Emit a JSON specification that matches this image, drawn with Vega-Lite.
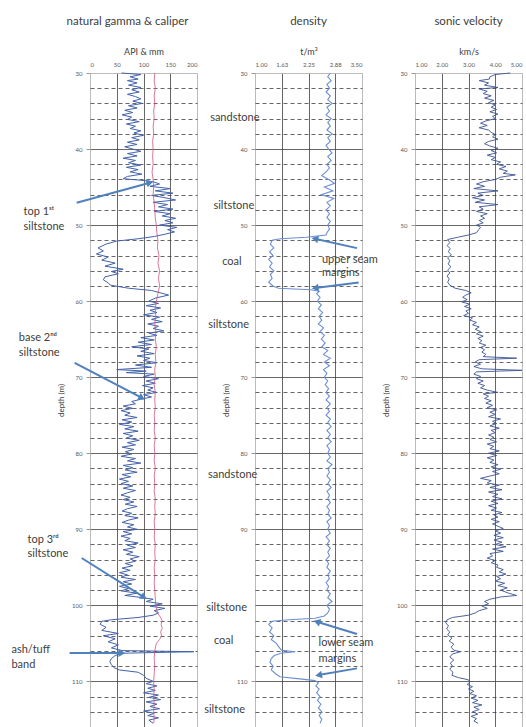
{
"$schema": "https://vega.github.io/schema/vega-lite/v6.json",
"autosize": {"type": "pad"},
"padding": {"left": 10, "top": 15, "right": 0, "bottom": 0},
"background": "white",
"config": {
  "view": {"stroke": "#bbbbbb", "strokeWidth": 1},
  "font": "Lato",
  "title": {"font": "Lato", "fontSize": 11.5, "fontWeight": "normal", "color": "#404040", "offset": 20},
  "axis": {"labelFont": "Lato", "titleFont": "Lato", "labelColor": "#595959", "titleColor": "#404040", "titleFontWeight": "normal", "domain": false}
},
"datasets": {
"gamma": [
{"d":30.0,"v":59},{"d":30.2,"v":95},{"d":30.5,"v":75},{"d":30.8,"v":90},{"d":31.0,"v":70},{"d":31.3,"v":88},{"d":31.6,"v":72},{"d":31.9,"v":95},{"d":32.2,"v":78},{"d":32.5,"v":92},{"d":32.8,"v":70},{"d":33.1,"v":85},{"d":33.4,"v":95},{"d":33.7,"v":80},{"d":34.0,"v":98},{"d":34.3,"v":72},{"d":34.6,"v":88},{"d":34.9,"v":65},{"d":35.2,"v":80},{"d":35.5,"v":60},{"d":35.8,"v":78},{"d":36.1,"v":70},{"d":36.4,"v":92},{"d":36.7,"v":68},{"d":37.0,"v":85},{"d":37.3,"v":75},{"d":37.6,"v":95},{"d":37.9,"v":82},{"d":38.2,"v":100},{"d":38.5,"v":78},{"d":38.8,"v":92},{"d":39.1,"v":70},{"d":39.4,"v":88},{"d":39.7,"v":65},{"d":40.0,"v":80},{"d":40.3,"v":95},{"d":40.6,"v":70},{"d":40.9,"v":88},{"d":41.2,"v":62},{"d":41.5,"v":85},{"d":41.8,"v":72},{"d":42.1,"v":95},{"d":42.4,"v":68},{"d":42.7,"v":90},{"d":43.0,"v":75},{"d":43.3,"v":97},{"d":43.6,"v":70},{"d":43.9,"v":62},{"d":44.1,"v":95},{"d":44.3,"v":118},{"d":44.6,"v":130},{"d":44.9,"v":112},{"d":45.2,"v":150},{"d":45.5,"v":122},{"d":45.8,"v":155},{"d":46.1,"v":115},{"d":46.4,"v":140},{"d":46.7,"v":160},{"d":47.0,"v":118},{"d":47.3,"v":145},{"d":47.6,"v":128},{"d":47.9,"v":155},{"d":48.2,"v":120},{"d":48.5,"v":150},{"d":48.8,"v":135},{"d":49.1,"v":160},{"d":49.4,"v":140},{"d":49.7,"v":155},{"d":50.0,"v":130},{"d":50.3,"v":162},{"d":50.6,"v":145},{"d":50.9,"v":158},{"d":51.2,"v":140},{"d":51.5,"v":120},{"d":51.8,"v":90},{"d":52.1,"v":50},{"d":52.5,"v":30},{"d":53.0,"v":15},{"d":53.4,"v":25},{"d":53.8,"v":12},{"d":54.2,"v":34},{"d":54.6,"v":22},{"d":55.0,"v":47},{"d":55.4,"v":28},{"d":55.8,"v":62},{"d":56.1,"v":40},{"d":56.4,"v":53},{"d":56.8,"v":28},{"d":57.2,"v":25},{"d":57.6,"v":34},{"d":57.9,"v":38},{"d":58.3,"v":72},{"d":58.6,"v":115},{"d":59.2,"v":147},{"d":59.6,"v":122},{"d":60.0,"v":110},{"d":60.3,"v":128},{"d":60.6,"v":105},{"d":60.9,"v":132},{"d":61.2,"v":112},{"d":61.5,"v":125},{"d":61.8,"v":100},{"d":62.1,"v":130},{"d":62.4,"v":115},{"d":62.7,"v":135},{"d":63.0,"v":108},{"d":63.3,"v":128},{"d":63.6,"v":118},{"d":63.9,"v":138},{"d":64.2,"v":110},{"d":64.5,"v":125},{"d":64.8,"v":95},{"d":65.1,"v":120},{"d":65.4,"v":90},{"d":65.7,"v":115},{"d":66.0,"v":78},{"d":66.3,"v":110},{"d":66.6,"v":95},{"d":66.9,"v":120},{"d":67.2,"v":88},{"d":67.5,"v":112},{"d":67.8,"v":100},{"d":68.1,"v":125},{"d":68.4,"v":85},{"d":68.7,"v":115},{"d":69.0,"v":50},{"d":69.2,"v":105},{"d":69.4,"v":68},{"d":69.6,"v":120},{"d":69.9,"v":100},{"d":70.2,"v":128},{"d":70.5,"v":105},{"d":70.8,"v":122},{"d":71.1,"v":98},{"d":71.4,"v":118},{"d":71.7,"v":108},{"d":72.0,"v":125},{"d":72.3,"v":100},{"d":72.6,"v":115},{"d":72.9,"v":95},{"d":73.2,"v":78},{"d":73.5,"v":85},{"d":73.8,"v":62},{"d":74.1,"v":80},{"d":74.4,"v":58},{"d":74.7,"v":75},{"d":75.0,"v":65},{"d":75.3,"v":88},{"d":75.6,"v":60},{"d":75.9,"v":78},{"d":76.2,"v":55},{"d":76.5,"v":82},{"d":76.8,"v":65},{"d":77.1,"v":90},{"d":77.4,"v":62},{"d":77.7,"v":80},{"d":78.0,"v":68},{"d":78.3,"v":92},{"d":78.6,"v":70},{"d":78.9,"v":85},{"d":79.2,"v":60},{"d":79.5,"v":82},{"d":79.8,"v":66},{"d":80.1,"v":78},{"d":80.4,"v":58},{"d":80.7,"v":85},{"d":81.0,"v":70},{"d":81.3,"v":95},{"d":81.6,"v":62},{"d":81.9,"v":80},{"d":82.2,"v":66},{"d":82.5,"v":88},{"d":82.8,"v":60},{"d":83.1,"v":76},{"d":83.4,"v":55},{"d":83.7,"v":72},{"d":84.0,"v":58},{"d":84.3,"v":80},{"d":84.6,"v":62},{"d":84.9,"v":85},{"d":85.2,"v":70},{"d":85.5,"v":58},{"d":85.8,"v":75},{"d":86.1,"v":62},{"d":86.4,"v":82},{"d":86.7,"v":66},{"d":87.0,"v":88},{"d":87.3,"v":70},{"d":87.6,"v":60},{"d":87.9,"v":78},{"d":88.2,"v":65},{"d":88.5,"v":90},{"d":88.8,"v":72},{"d":89.1,"v":60},{"d":89.4,"v":82},{"d":89.7,"v":70},{"d":90.0,"v":88},{"d":90.3,"v":62},{"d":90.6,"v":78},{"d":90.9,"v":58},{"d":91.2,"v":75},{"d":91.5,"v":65},{"d":91.8,"v":90},{"d":92.1,"v":70},{"d":92.4,"v":85},{"d":92.7,"v":62},{"d":93.0,"v":80},{"d":93.3,"v":68},{"d":93.6,"v":92},{"d":93.9,"v":75},{"d":94.2,"v":85},{"d":94.5,"v":66},{"d":94.8,"v":80},{"d":95.1,"v":60},{"d":95.4,"v":75},{"d":95.7,"v":55},{"d":96.0,"v":70},{"d":96.3,"v":58},{"d":96.6,"v":85},{"d":96.9,"v":62},{"d":97.2,"v":78},{"d":97.5,"v":55},{"d":97.8,"v":72},{"d":98.1,"v":58},{"d":98.4,"v":88},{"d":98.7,"v":65},{"d":99.0,"v":100},{"d":99.2,"v":118},{"d":99.5,"v":105},{"d":99.8,"v":135},{"d":100.1,"v":112},{"d":100.4,"v":140},{"d":100.7,"v":120},{"d":101.0,"v":128},{"d":101.3,"v":118},{"d":101.6,"v":90},{"d":101.9,"v":40},{"d":102.1,"v":22},{"d":102.5,"v":19},{"d":102.9,"v":30},{"d":103.3,"v":22},{"d":103.7,"v":53},{"d":104.0,"v":25},{"d":104.4,"v":47},{"d":104.8,"v":34},{"d":105.2,"v":53},{"d":105.6,"v":40},{"d":105.95,"v":60},{"d":106.1,"v":194},{"d":106.3,"v":59},{"d":106.6,"v":47},{"d":107.0,"v":40},{"d":107.4,"v":37},{"d":107.8,"v":40},{"d":108.2,"v":45},{"d":108.5,"v":55},{"d":108.8,"v":90},{"d":109.2,"v":100},{"d":109.6,"v":105},{"d":110.0,"v":118},{"d":110.3,"v":105},{"d":110.6,"v":125},{"d":110.9,"v":108},{"d":111.2,"v":122},{"d":111.5,"v":100},{"d":111.8,"v":128},{"d":112.1,"v":110},{"d":112.4,"v":132},{"d":112.7,"v":105},{"d":113.0,"v":125},{"d":113.3,"v":112},{"d":113.6,"v":130},{"d":113.9,"v":100},{"d":114.2,"v":120},{"d":114.5,"v":108},{"d":114.8,"v":128},{"d":115.1,"v":110},{"d":115.5,"v":118}
],
"caliper": [
{"d":30,"v":121},{"d":31,"v":120},{"d":32,"v":122},{"d":33,"v":120},{"d":34,"v":121},{"d":35,"v":119},{"d":36,"v":120},{"d":37,"v":118},{"d":38,"v":119},{"d":39,"v":117},{"d":40,"v":118},{"d":41,"v":117},{"d":42,"v":118},{"d":43,"v":116},{"d":44,"v":118},{"d":45,"v":119},{"d":46,"v":118},{"d":47,"v":120},{"d":48,"v":121},{"d":49,"v":122},{"d":50,"v":124},{"d":51,"v":125},{"d":52,"v":127},{"d":53,"v":126},{"d":54,"v":129},{"d":55,"v":127},{"d":56,"v":130},{"d":57,"v":128},{"d":58,"v":130},{"d":59,"v":127},{"d":60,"v":124},{"d":61,"v":122},{"d":62,"v":123},{"d":63,"v":121},{"d":64,"v":123},{"d":65,"v":122},{"d":66,"v":124},{"d":67,"v":122},{"d":68,"v":123},{"d":69,"v":121},{"d":70,"v":122},{"d":71,"v":120},{"d":72,"v":122},{"d":73,"v":121},{"d":74,"v":122},{"d":75,"v":120},{"d":76,"v":121},{"d":77,"v":120},{"d":78,"v":122},{"d":79,"v":120},{"d":80,"v":121},{"d":81,"v":120},{"d":82,"v":122},{"d":83,"v":120},{"d":84,"v":121},{"d":85,"v":120},{"d":86,"v":122},{"d":87,"v":121},{"d":88,"v":122},{"d":89,"v":120},{"d":90,"v":121},{"d":91,"v":120},{"d":92,"v":122},{"d":93,"v":121},{"d":94,"v":122},{"d":95,"v":120},{"d":96,"v":121},{"d":97,"v":120},{"d":98,"v":121},{"d":99,"v":122},{"d":100,"v":123},{"d":101,"v":126},{"d":101.5,"v":131},{"d":102,"v":135},{"d":102.5,"v":133},{"d":103,"v":135},{"d":103.5,"v":132},{"d":104,"v":134},{"d":104.5,"v":130},{"d":105,"v":124},{"d":106,"v":121},{"d":107,"v":120},{"d":108,"v":121},{"d":109,"v":120},{"d":110,"v":119},{"d":111,"v":120},{"d":112,"v":119},{"d":113,"v":120},{"d":114,"v":119},{"d":115,"v":120},{"d":115.5,"v":119}
],
"density": [
{"d":30.0,"v":2.76},{"d":30.5,"v":2.70},{"d":31.0,"v":2.78},{"d":31.5,"v":2.68},{"d":32.0,"v":2.74},{"d":32.5,"v":2.66},{"d":33.0,"v":2.76},{"d":33.5,"v":2.70},{"d":34.0,"v":2.80},{"d":34.5,"v":2.68},{"d":35.0,"v":2.74},{"d":35.5,"v":2.66},{"d":36.0,"v":2.78},{"d":36.5,"v":2.70},{"d":37.0,"v":2.76},{"d":37.5,"v":2.68},{"d":38.0,"v":2.80},{"d":38.5,"v":2.70},{"d":39.0,"v":2.76},{"d":39.5,"v":2.66},{"d":40.0,"v":2.72},{"d":40.5,"v":2.80},{"d":41.0,"v":2.70},{"d":41.5,"v":2.78},{"d":42.0,"v":2.68},{"d":42.5,"v":2.74},{"d":43.0,"v":2.66},{"d":43.5,"v":2.56},{"d":44.0,"v":2.72},{"d":44.5,"v":2.86},{"d":45.0,"v":2.62},{"d":45.5,"v":2.82},{"d":46.0,"v":2.55},{"d":46.5,"v":2.84},{"d":47.0,"v":2.68},{"d":47.5,"v":2.76},{"d":48.0,"v":2.66},{"d":48.5,"v":2.74},{"d":49.0,"v":2.68},{"d":49.5,"v":2.76},{"d":50.0,"v":2.70},{"d":50.5,"v":2.74},{"d":51.0,"v":2.68},{"d":51.3,"v":2.66},{"d":51.6,"v":2.20},{"d":51.8,"v":1.60},{"d":52.0,"v":1.40},{"d":52.5,"v":1.36},{"d":53.0,"v":1.44},{"d":53.5,"v":1.34},{"d":54.0,"v":1.42},{"d":54.5,"v":1.32},{"d":55.0,"v":1.40},{"d":55.5,"v":1.34},{"d":56.0,"v":1.44},{"d":56.5,"v":1.36},{"d":57.0,"v":1.40},{"d":57.5,"v":1.32},{"d":58.0,"v":1.42},{"d":58.3,"v":1.55},{"d":58.5,"v":2.30},{"d":58.7,"v":2.50},{"d":59.0,"v":2.44},{"d":59.5,"v":2.52},{"d":60.0,"v":2.46},{"d":60.5,"v":2.55},{"d":61.0,"v":2.48},{"d":61.5,"v":2.58},{"d":62.0,"v":2.50},{"d":62.5,"v":2.56},{"d":63.0,"v":2.48},{"d":63.5,"v":2.60},{"d":64.0,"v":2.52},{"d":64.5,"v":2.62},{"d":65.0,"v":2.55},{"d":65.5,"v":2.64},{"d":66.0,"v":2.56},{"d":66.5,"v":2.70},{"d":67.0,"v":2.60},{"d":67.5,"v":2.76},{"d":68.0,"v":2.62},{"d":68.5,"v":2.74},{"d":69.0,"v":2.60},{"d":69.5,"v":2.68},{"d":70.0,"v":2.62},{"d":70.5,"v":2.70},{"d":71.0,"v":2.64},{"d":71.5,"v":2.72},{"d":72.0,"v":2.66},{"d":72.5,"v":2.74},{"d":73.0,"v":2.66},{"d":73.5,"v":2.76},{"d":74.0,"v":2.68},{"d":74.5,"v":2.74},{"d":75.0,"v":2.66},{"d":75.5,"v":2.76},{"d":76.0,"v":2.70},{"d":76.5,"v":2.78},{"d":77.0,"v":2.68},{"d":77.5,"v":2.76},{"d":78.0,"v":2.70},{"d":78.5,"v":2.78},{"d":79.0,"v":2.68},{"d":79.5,"v":2.74},{"d":80.0,"v":2.70},{"d":80.5,"v":2.76},{"d":81.0,"v":2.68},{"d":81.5,"v":2.80},{"d":82.0,"v":2.70},{"d":82.5,"v":2.74},{"d":83.0,"v":2.68},{"d":83.5,"v":2.76},{"d":84.0,"v":2.70},{"d":84.5,"v":2.78},{"d":85.0,"v":2.68},{"d":85.5,"v":2.74},{"d":86.0,"v":2.70},{"d":86.5,"v":2.76},{"d":87.0,"v":2.68},{"d":87.5,"v":2.74},{"d":88.0,"v":2.70},{"d":88.5,"v":2.78},{"d":89.0,"v":2.68},{"d":89.5,"v":2.74},{"d":90.0,"v":2.70},{"d":90.5,"v":2.76},{"d":91.0,"v":2.66},{"d":91.5,"v":2.74},{"d":92.0,"v":2.68},{"d":92.5,"v":2.76},{"d":93.0,"v":2.70},{"d":93.5,"v":2.74},{"d":94.0,"v":2.66},{"d":94.5,"v":2.72},{"d":95.0,"v":2.68},{"d":95.5,"v":2.76},{"d":96.0,"v":2.70},{"d":96.5,"v":2.74},{"d":97.0,"v":2.66},{"d":97.5,"v":2.72},{"d":98.0,"v":2.68},{"d":98.5,"v":2.76},{"d":99.0,"v":2.70},{"d":99.5,"v":2.80},{"d":100.0,"v":2.68},{"d":100.5,"v":2.74},{"d":101.0,"v":2.70},{"d":101.4,"v":2.62},{"d":101.7,"v":2.40},{"d":101.9,"v":1.80},{"d":102.1,"v":1.40},{"d":102.5,"v":1.32},{"d":103.0,"v":1.40},{"d":103.5,"v":1.34},{"d":104.0,"v":1.44},{"d":104.5,"v":1.38},{"d":105.0,"v":1.50},{"d":105.5,"v":1.56},{"d":105.9,"v":1.62},{"d":106.1,"v":1.94},{"d":106.3,"v":1.60},{"d":106.6,"v":1.45},{"d":107.0,"v":1.38},{"d":107.5,"v":1.35},{"d":108.0,"v":1.42},{"d":108.5,"v":1.38},{"d":109.0,"v":1.48},{"d":109.4,"v":1.58},{"d":109.7,"v":2.10},{"d":109.9,"v":2.40},{"d":110.2,"v":2.48},{"d":110.6,"v":2.42},{"d":111.0,"v":2.50},{"d":111.5,"v":2.44},{"d":112.0,"v":2.52},{"d":112.5,"v":2.46},{"d":113.0,"v":2.54},{"d":113.5,"v":2.48},{"d":114.0,"v":2.56},{"d":114.5,"v":2.50},{"d":115.0,"v":2.56},{"d":115.5,"v":2.52}
],
"sonic": [
{"d":30.0,"v":4.56},{"d":30.2,"v":4.00},{"d":30.5,"v":3.80},{"d":30.8,"v":3.78},{"d":31.0,"v":3.40},{"d":31.3,"v":3.75},{"d":31.6,"v":3.60},{"d":31.9,"v":4.10},{"d":32.1,"v":3.40},{"d":32.4,"v":3.70},{"d":32.7,"v":3.55},{"d":33.0,"v":3.85},{"d":33.3,"v":3.60},{"d":33.6,"v":3.95},{"d":33.9,"v":3.75},{"d":34.2,"v":4.00},{"d":34.5,"v":3.85},{"d":34.8,"v":4.05},{"d":35.1,"v":3.80},{"d":35.4,"v":4.10},{"d":35.7,"v":3.90},{"d":36.0,"v":4.00},{"d":36.3,"v":3.65},{"d":36.6,"v":3.45},{"d":36.9,"v":3.70},{"d":37.2,"v":3.40},{"d":37.5,"v":3.75},{"d":37.8,"v":3.85},{"d":38.1,"v":4.00},{"d":38.4,"v":3.90},{"d":38.7,"v":4.10},{"d":39.0,"v":3.75},{"d":39.3,"v":3.60},{"d":39.6,"v":3.80},{"d":39.9,"v":4.10},{"d":40.2,"v":3.85},{"d":40.5,"v":4.05},{"d":40.8,"v":3.70},{"d":41.1,"v":4.00},{"d":41.4,"v":3.85},{"d":41.7,"v":4.20},{"d":42.0,"v":4.05},{"d":42.3,"v":4.40},{"d":42.6,"v":4.15},{"d":42.9,"v":4.45},{"d":43.2,"v":4.30},{"d":43.4,"v":4.75},{"d":43.7,"v":4.20},{"d":44.0,"v":4.00},{"d":44.3,"v":3.55},{"d":44.6,"v":3.30},{"d":44.9,"v":3.60},{"d":45.2,"v":3.20},{"d":45.5,"v":4.10},{"d":45.8,"v":3.35},{"d":46.1,"v":3.55},{"d":46.4,"v":3.15},{"d":46.7,"v":3.60},{"d":47.0,"v":3.25},{"d":47.3,"v":4.10},{"d":47.6,"v":3.40},{"d":47.9,"v":3.55},{"d":48.2,"v":3.30},{"d":48.5,"v":3.70},{"d":48.8,"v":3.45},{"d":49.1,"v":3.60},{"d":49.4,"v":3.40},{"d":49.7,"v":3.55},{"d":50.0,"v":3.30},{"d":50.3,"v":3.45},{"d":50.6,"v":3.38},{"d":51.0,"v":3.30},{"d":51.3,"v":3.00},{"d":51.6,"v":2.60},{"d":51.9,"v":2.22},{"d":52.3,"v":2.30},{"d":52.7,"v":2.20},{"d":53.1,"v":2.32},{"d":53.5,"v":2.24},{"d":53.9,"v":2.36},{"d":54.3,"v":2.22},{"d":54.7,"v":2.30},{"d":55.1,"v":2.24},{"d":55.5,"v":2.34},{"d":55.9,"v":2.22},{"d":56.3,"v":2.30},{"d":56.7,"v":2.20},{"d":57.1,"v":2.28},{"d":57.5,"v":2.22},{"d":57.9,"v":2.30},{"d":58.3,"v":2.50},{"d":58.6,"v":2.90},{"d":58.9,"v":3.10},{"d":59.2,"v":2.90},{"d":59.5,"v":2.78},{"d":59.8,"v":2.95},{"d":60.1,"v":2.75},{"d":60.4,"v":3.05},{"d":60.7,"v":2.85},{"d":61.0,"v":3.10},{"d":61.3,"v":2.90},{"d":61.6,"v":3.00},{"d":61.9,"v":2.82},{"d":62.2,"v":3.15},{"d":62.5,"v":3.05},{"d":62.8,"v":3.30},{"d":63.1,"v":3.15},{"d":63.4,"v":3.40},{"d":63.7,"v":3.25},{"d":64.0,"v":3.45},{"d":64.3,"v":3.30},{"d":64.6,"v":3.55},{"d":64.9,"v":3.35},{"d":65.2,"v":3.50},{"d":65.5,"v":3.40},{"d":65.8,"v":3.65},{"d":66.1,"v":3.45},{"d":66.4,"v":3.60},{"d":66.7,"v":3.50},{"d":67.0,"v":3.65},{"d":67.3,"v":3.55},{"d":67.5,"v":4.80},{"d":67.7,"v":3.40},{"d":68.0,"v":3.25},{"d":68.3,"v":3.45},{"d":68.6,"v":3.20},{"d":68.9,"v":3.50},{"d":69.1,"v":5.00},{"d":69.3,"v":3.30},{"d":69.6,"v":3.20},{"d":69.9,"v":3.45},{"d":70.2,"v":3.30},{"d":70.5,"v":3.55},{"d":70.8,"v":3.35},{"d":71.1,"v":3.60},{"d":71.4,"v":3.45},{"d":71.7,"v":3.70},{"d":72.0,"v":4.10},{"d":72.2,"v":3.55},{"d":72.5,"v":3.75},{"d":72.8,"v":3.60},{"d":73.1,"v":3.85},{"d":73.4,"v":3.65},{"d":73.7,"v":3.90},{"d":74.0,"v":3.70},{"d":74.3,"v":4.05},{"d":74.6,"v":3.80},{"d":74.9,"v":4.00},{"d":75.2,"v":3.75},{"d":75.5,"v":4.20},{"d":75.8,"v":3.90},{"d":76.1,"v":4.05},{"d":76.4,"v":3.80},{"d":76.7,"v":4.15},{"d":77.0,"v":3.85},{"d":77.3,"v":4.00},{"d":77.6,"v":3.75},{"d":77.9,"v":3.95},{"d":78.2,"v":3.80},{"d":78.5,"v":4.05},{"d":78.8,"v":3.70},{"d":79.1,"v":3.95},{"d":79.4,"v":3.80},{"d":79.7,"v":4.15},{"d":80.0,"v":3.75},{"d":80.3,"v":4.05},{"d":80.6,"v":3.70},{"d":80.9,"v":3.95},{"d":81.2,"v":3.80},{"d":81.5,"v":4.10},{"d":81.8,"v":3.85},{"d":82.1,"v":4.20},{"d":82.4,"v":3.90},{"d":82.7,"v":4.15},{"d":83.0,"v":3.80},{"d":83.3,"v":3.45},{"d":83.6,"v":3.85},{"d":83.9,"v":3.70},{"d":84.2,"v":4.15},{"d":84.5,"v":3.80},{"d":84.8,"v":4.25},{"d":85.1,"v":3.75},{"d":85.4,"v":4.10},{"d":85.7,"v":3.90},{"d":86.0,"v":4.25},{"d":86.3,"v":3.85},{"d":86.6,"v":4.10},{"d":86.9,"v":3.75},{"d":87.2,"v":4.05},{"d":87.5,"v":3.85},{"d":87.8,"v":4.25},{"d":88.1,"v":3.95},{"d":88.4,"v":4.10},{"d":88.7,"v":3.85},{"d":89.0,"v":4.15},{"d":89.3,"v":3.90},{"d":89.6,"v":4.10},{"d":89.9,"v":4.30},{"d":90.2,"v":4.00},{"d":90.5,"v":4.20},{"d":90.8,"v":3.95},{"d":91.1,"v":4.30},{"d":91.4,"v":3.95},{"d":91.7,"v":4.25},{"d":92.0,"v":4.00},{"d":92.3,"v":4.40},{"d":92.6,"v":3.90},{"d":92.9,"v":4.30},{"d":93.2,"v":3.80},{"d":93.5,"v":3.90},{"d":93.8,"v":3.70},{"d":94.1,"v":4.00},{"d":94.4,"v":3.85},{"d":94.7,"v":4.10},{"d":95.0,"v":4.05},{"d":95.3,"v":4.30},{"d":95.6,"v":4.15},{"d":95.9,"v":4.40},{"d":96.2,"v":4.05},{"d":96.5,"v":4.20},{"d":96.8,"v":4.00},{"d":97.1,"v":4.35},{"d":97.4,"v":4.10},{"d":97.7,"v":4.45},{"d":98.0,"v":4.20},{"d":98.4,"v":4.50},{"d":98.7,"v":4.80},{"d":98.9,"v":4.20},{"d":99.2,"v":3.80},{"d":99.5,"v":3.60},{"d":99.8,"v":3.75},{"d":100.1,"v":3.50},{"d":100.4,"v":3.70},{"d":100.7,"v":3.40},{"d":101.0,"v":3.25},{"d":101.3,"v":3.00},{"d":101.6,"v":2.40},{"d":101.9,"v":2.20},{"d":102.3,"v":2.15},{"d":102.7,"v":2.25},{"d":103.1,"v":2.18},{"d":103.5,"v":2.30},{"d":103.9,"v":2.22},{"d":104.3,"v":2.38},{"d":104.7,"v":2.28},{"d":105.1,"v":2.45},{"d":105.5,"v":2.35},{"d":105.9,"v":2.45},{"d":106.1,"v":2.70},{"d":106.4,"v":2.40},{"d":106.8,"v":2.30},{"d":107.2,"v":2.45},{"d":107.6,"v":2.32},{"d":108.0,"v":2.40},{"d":108.4,"v":2.30},{"d":108.8,"v":2.42},{"d":109.2,"v":2.38},{"d":109.5,"v":2.62},{"d":109.8,"v":3.00},{"d":110.1,"v":3.05},{"d":110.4,"v":2.95},{"d":110.7,"v":3.15},{"d":111.0,"v":3.00},{"d":111.3,"v":3.20},{"d":111.6,"v":3.05},{"d":111.9,"v":3.30},{"d":112.2,"v":3.10},{"d":112.5,"v":3.35},{"d":112.8,"v":3.15},{"d":113.1,"v":3.50},{"d":113.4,"v":3.20},{"d":113.7,"v":3.40},{"d":114.0,"v":3.15},{"d":114.3,"v":3.35},{"d":114.6,"v":3.10},{"d":114.9,"v":3.30},{"d":115.2,"v":3.20},{"d":115.5,"v":3.35}
],
"notes1": [
{"v":-124.2,"d":48.22,"t":"top 1ˢᵗ"},{"v":-124.2,"d":50.19,"t":"siltstone"},
{"v":-133,"d":64.83,"t":"base 2ⁿᵈ"},{"v":-133,"d":66.8,"t":"siltstone"},
{"v":-116.8,"d":91.4,"t":"top 3ʳᵈ"},{"v":-116.8,"d":93.24,"t":"siltstone"},
{"v":-146.8,"d":105.88,"t":"ash/tuff"},{"v":-146.8,"d":107.86,"t":"band"}
],
"arrows1": [
{"id":"a","v":-24.9,"d":47.07,"v2":111.9,"d2":44.43},
{"id":"b","v":-28.7,"d":68.12,"v2":97.0,"d2":72.72},
{"id":"c","v":-15.6,"d":93.78,"v2":100.7,"d2":98.93},
{"id":"e","v":-38.1,"d":106.27,"v2":59.4,"d2":106.27}
],
"notes2": [
{"v":2.563,"d":54.57,"t":"upper seam"},{"v":2.563,"d":56.28,"t":"margins"},
{"v":2.486,"d":105.0,"t":"lower seam"},{"v":2.486,"d":107.1,"t":"margins"}
],
"litho": [
{"v":0.529,"d":35.92,"t":"sandstone"},{"v":0.506,"d":47.55,"t":"siltstone"},{"v":0.46,"d":54.79,"t":"coal"},{"v":0.384,"d":63.12,"t":"siltstone"},{"v":0.478,"d":82.86,"t":"sandstone"},{"v":0.337,"d":100.3,"t":"siltstone"},{"v":0.267,"d":104.7,"t":"coal"},{"v":0.29,"d":113.77,"t":"siltstone"}
],
"arrows2": [
{"id":"f","v":3.383,"d":53.03,"v2":2.399,"d2":51.80},
{"id":"g","v":3.423,"d":57.55,"v2":2.406,"d2":58.28},
{"id":"h","v":3.383,"d":103.78,"v2":2.446,"d2":102.16},
{"id":"k","v":3.383,"d":108.29,"v2":2.486,"d2":109.17}
]
},
"spacing": 58,
"bounds": "flush",
"hconcat": [
{
  "width": 107, "height": 654,
  "title": {"text": "natural gamma & caliper", "dx": -16},
  "layer": [
    {"data": {"name": "gamma"},
     "mark": {"type": "line", "color": "#4262aa", "strokeWidth": 1},
     "encoding": {
       "x": {"field": "v", "type": "quantitative", "scale": {"domain": [0, 200], "nice": false, "zero": false},
             "axis": {"orient": "top", "title": "API & mm", "titleFontSize": 9, "titlePadding": 5, "values": [0, 50, 100, 150, 200], "tickCount": 100, "labelOverlap": false, "format": "d", "labelFontSize": 6, "ticks": false, "labelPadding": 6, "grid": true, "gridWidth": 0.8,
                      "gridColor": {"condition": {"test": "datum.value === 0 || datum.value === 200", "value": "#bbbbbb"}, "value": "#404040"}}},
       "y": {"field": "d", "type": "quantitative", "scale": {"domain": [30, 116], "reverse": true, "nice": false, "zero": false},
             "axis": {"title": "depth (m)", "titleFontSize": 8, "titlePadding": 6, "values": [30,32,34,36,38,40,42,44,46,48,50,52,54,56,58,60,62,64,66,68,70,72,74,76,78,80,82,84,86,88,90,92,94,96,98,100,102,104,106,108,110,112,114], "tickCount": 200, "labelOverlap": false, "format": "d",
                      "labelExpr": "datum.value % 10 === 0 ? datum.label : ''", "labelFontSize": 6, "labelPadding": 4, "tickSize": 4, "tickColor": "#999999",
                      "tickOpacity": {"condition": {"test": "datum.value % 10 === 0", "value": 1}, "value": 0},
                      "grid": true, "gridWidth": 0.8,
                      "gridColor": {"condition": {"test": "datum.value === 30", "value": "#bbbbbb"}, "value": "#404040"},
                      "gridDash": {"condition": {"test": "datum.value % 10 !== 0", "value": [4, 3]}, "value": []}}},
       "order": {"field": "d", "type": "quantitative"}
     }},
    {"data": {"name": "caliper"},
     "mark": {"type": "line", "color": "#d2557c", "strokeWidth": 0.8},
     "encoding": {"x": {"field": "v", "type": "quantitative"}, "y": {"field": "d", "type": "quantitative"}, "order": {"field": "d", "type": "quantitative"}}},
    {"data": {"name": "arrows1"},
     "mark": {"type": "rule", "color": "#4f81bd", "strokeWidth": 2},
     "encoding": {"x": {"field": "v", "type": "quantitative"}, "y": {"field": "d", "type": "quantitative"}, "x2": {"field": "v2"}, "y2": {"field": "d2"}}},
    {"data": {"name": "arrows1"}, "transform": [{"filter": "datum.id === 'a'"}],
     "mark": {"type": "point", "shape": "triangle-right", "angle": -15, "filled": true, "color": "#4f81bd", "opacity": 1, "size": 60},
     "encoding": {"x": {"field": "v2", "type": "quantitative"}, "y": {"field": "d2", "type": "quantitative"}}},
    {"data": {"name": "arrows1"}, "transform": [{"filter": "datum.id === 'b'"}],
     "mark": {"type": "point", "shape": "triangle-right", "angle": 28, "filled": true, "color": "#4f81bd", "opacity": 1, "size": 60},
     "encoding": {"x": {"field": "v2", "type": "quantitative"}, "y": {"field": "d2", "type": "quantitative"}}},
    {"data": {"name": "arrows1"}, "transform": [{"filter": "datum.id === 'c'"}],
     "mark": {"type": "point", "shape": "triangle-right", "angle": 32, "filled": true, "color": "#4f81bd", "opacity": 1, "size": 60},
     "encoding": {"x": {"field": "v2", "type": "quantitative"}, "y": {"field": "d2", "type": "quantitative"}}},
    {"data": {"name": "arrows1"}, "transform": [{"filter": "datum.id === 'e'"}],
     "mark": {"type": "point", "shape": "triangle-right", "angle": 0, "filled": true, "color": "#4f81bd", "opacity": 1, "size": 60},
     "encoding": {"x": {"field": "v2", "type": "quantitative"}, "y": {"field": "d2", "type": "quantitative"}}},
    {"data": {"name": "notes1"},
     "mark": {"type": "text", "align": "left", "baseline": "middle", "fontSize": 11, "font": "Lato", "color": "#404040"},
     "encoding": {"x": {"field": "v", "type": "quantitative"}, "y": {"field": "d", "type": "quantitative"}, "text": {"field": "t"}}}
  ]
},
{
  "spacing": 53,
  "bounds": "flush",
  "hconcat": [
  {
    "width": 107, "height": 654,
    "title": {"text": "density"},
    "layer": [
      {"data": {"name": "density"},
       "mark": {"type": "line", "color": "#6b8fd4", "strokeWidth": 1.1},
       "encoding": {
         "x": {"field": "v", "type": "quantitative", "scale": {"domain": [1, 3.5], "nice": false, "zero": false},
               "axis": {"orient": "top", "title": "t/m³", "titleFontSize": 9, "titlePadding": 5, "values": [1, 1.625, 2.25, 2.875, 3.5], "tickCount": 100, "labelOverlap": false, "format": ".2f", "labelFontSize": 6, "ticks": false, "labelPadding": 6, "grid": true, "gridWidth": 0.8,
                        "gridColor": {"condition": {"test": "datum.value === 1 || datum.value === 3.5", "value": "#bbbbbb"}, "value": "#404040"}}},
         "y": {"field": "d", "type": "quantitative", "scale": {"domain": [30, 116], "reverse": true, "nice": false, "zero": false},
               "axis": {"title": "depth (m)", "titleFontSize": 8, "titlePadding": 6, "values": [30,32,34,36,38,40,42,44,46,48,50,52,54,56,58,60,62,64,66,68,70,72,74,76,78,80,82,84,86,88,90,92,94,96,98,100,102,104,106,108,110,112,114], "tickCount": 200, "labelOverlap": false, "format": "d",
                        "labelExpr": "datum.value % 10 === 0 && datum.value !== 100 ? datum.label : ''", "labelFontSize": 6, "labelPadding": 4, "tickSize": 4, "tickColor": "#999999",
                        "tickOpacity": {"condition": {"test": "datum.value % 10 === 0 && datum.value !== 100", "value": 1}, "value": 0},
                        "grid": true, "gridWidth": 0.8,
                        "gridColor": {"condition": {"test": "datum.value === 30", "value": "#bbbbbb"}, "value": "#404040"},
                        "gridDash": {"condition": {"test": "datum.value % 10 !== 0", "value": [4, 3]}, "value": []}}},
         "order": {"field": "d", "type": "quantitative"}
       }},
      {"data": {"name": "arrows2"},
       "mark": {"type": "rule", "color": "#4f81bd", "strokeWidth": 2},
       "encoding": {"x": {"field": "v", "type": "quantitative"}, "y": {"field": "d", "type": "quantitative"}, "x2": {"field": "v2"}, "y2": {"field": "d2"}}},
      {"data": {"name": "arrows2"}, "transform": [{"filter": "datum.id === 'f'"}],
       "mark": {"type": "point", "shape": "triangle-right", "angle": 192, "filled": true, "color": "#4f81bd", "opacity": 1, "size": 60},
       "encoding": {"x": {"field": "v2", "type": "quantitative"}, "y": {"field": "d2", "type": "quantitative"}}},
      {"data": {"name": "arrows2"}, "transform": [{"filter": "datum.id === 'g'"}],
       "mark": {"type": "point", "shape": "triangle-right", "angle": 173, "filled": true, "color": "#4f81bd", "opacity": 1, "size": 60},
       "encoding": {"x": {"field": "v2", "type": "quantitative"}, "y": {"field": "d2", "type": "quantitative"}}},
      {"data": {"name": "arrows2"}, "transform": [{"filter": "datum.id === 'h'"}],
       "mark": {"type": "point", "shape": "triangle-right", "angle": 197, "filled": true, "color": "#4f81bd", "opacity": 1, "size": 60},
       "encoding": {"x": {"field": "v2", "type": "quantitative"}, "y": {"field": "d2", "type": "quantitative"}}},
      {"data": {"name": "arrows2"}, "transform": [{"filter": "datum.id === 'k'"}],
       "mark": {"type": "point", "shape": "triangle-right", "angle": 170, "filled": true, "color": "#4f81bd", "opacity": 1, "size": 60},
       "encoding": {"x": {"field": "v2", "type": "quantitative"}, "y": {"field": "d2", "type": "quantitative"}}},
      {"data": {"name": "notes2"},
       "mark": {"type": "text", "align": "left", "baseline": "middle", "fontSize": 11, "font": "Lato", "color": "#404040"},
       "encoding": {"x": {"field": "v", "type": "quantitative"}, "y": {"field": "d", "type": "quantitative"}, "text": {"field": "t"}}},
      {"data": {"name": "litho"},
       "mark": {"type": "text", "align": "center", "baseline": "middle", "fontSize": 11, "font": "Lato", "color": "#404040"},
       "encoding": {"x": {"field": "v", "type": "quantitative"}, "y": {"field": "d", "type": "quantitative"}, "text": {"field": "t"}}}
    ]
  },
  {
    "width": 107, "height": 654,
    "title": {"text": "sonic velocity"},
    "layer": [
      {"data": {"name": "sonic"},
       "mark": {"type": "line", "color": "#3a5292", "strokeWidth": 0.9},
       "encoding": {
         "x": {"field": "v", "type": "quantitative", "scale": {"domain": [1, 5], "nice": false, "zero": false},
               "axis": {"orient": "top", "title": "km/s", "titleFontSize": 9, "titlePadding": 5, "values": [1, 2, 3, 4, 5], "tickCount": 100, "labelOverlap": false, "format": ".2f", "labelFontSize": 6, "ticks": false, "labelPadding": 6, "grid": true, "gridWidth": 0.8,
                        "gridColor": {"condition": {"test": "datum.value === 1 || datum.value === 5", "value": "#bbbbbb"}, "value": "#404040"}}},
         "y": {"field": "d", "type": "quantitative", "scale": {"domain": [30, 116], "reverse": true, "nice": false, "zero": false},
               "axis": {"title": "depth (m)", "titleFontSize": 8, "titlePadding": 6, "values": [30,32,34,36,38,40,42,44,46,48,50,52,54,56,58,60,62,64,66,68,70,72,74,76,78,80,82,84,86,88,90,92,94,96,98,100,102,104,106,108,110,112,114], "tickCount": 200, "labelOverlap": false, "format": "d",
                        "labelExpr": "datum.value % 10 === 0 ? datum.label : ''", "labelFontSize": 6, "labelPadding": 4, "tickSize": 4, "tickColor": "#999999",
                        "tickOpacity": {"condition": {"test": "datum.value % 10 === 0", "value": 1}, "value": 0},
                        "grid": true, "gridWidth": 0.8,
                        "gridColor": {"condition": {"test": "datum.value === 30", "value": "#bbbbbb"}, "value": "#404040"},
                        "gridDash": {"condition": {"test": "datum.value % 10 !== 0", "value": [4, 3]}, "value": []}}},
         "order": {"field": "d", "type": "quantitative"}
       }}
    ]
  }
  ]
}
]
}
